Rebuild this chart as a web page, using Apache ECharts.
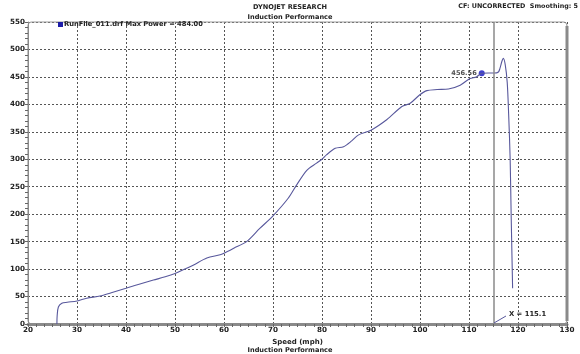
<!DOCTYPE html>
<html><head><meta charset="utf-8">
<script src="https://cdn.jsdelivr.net/npm/echarts@6/dist/echarts.min.js"></script>
<style>html,body{margin:0;padding:0;background:#fff}#c{width:580px;height:354px}</style>
</head><body><div id="c"></div><script>
// ---- data ----
const speedMph = [25.9, 25.95, 26.2, 26.9, 28, 30, 32, 34.7, 37, 40, 42.5, 45.6, 48, 50, 52, 53.7, 56.5, 59.2, 60, 62, 64.6, 67.3, 70, 73.1, 74.8, 76.9, 78.9, 80, 80.9, 82.7, 84.4, 86, 87.4, 90, 93.2, 96.3, 98, 99.9, 101.4, 103.5, 105.8, 108.2, 110.2, 111.5, 112.6, 114, 115.2, 116, 116.3, 116.7, 117, 117.4, 117.8, 118.1, 118.4, 118.6, 118.8, 118.9];
const powerHp  = [0, 15, 31, 37.7, 39.5, 42, 47, 51, 57, 65, 72, 80, 86, 92, 100, 107, 120, 126, 129, 138, 150, 174, 197, 229, 253, 280, 293, 300, 308, 320, 323, 333, 344, 353, 372, 396, 402, 417, 425, 427, 428, 435, 447, 450, 456.56, 457, 457, 459, 465, 478, 484, 472, 440, 380, 300, 200, 110, 65];
const markerPoint = [112.6, 456.56];
const cursorX = 115.1;
const seriesName = 'RunFile_011.drf Max Power = 484.00';
const xMin = 20, xMax = 130, xStep = 10;
const yMin = 0, yMax = 550, yStep = 50;

const FONT = 'DejaVu Sans';
const lbl = {fontFamily: FONT, fontWeight: 'bold', fontSize: 7.2, color: '#222'};
const small = {...lbl, fontSize: 6.6};

const chart = echarts.init(document.getElementById('c'), null, {renderer: 'canvas'});
const option = {
  animation: false,
  backgroundColor: '#fff',
  title: [
    {text: 'DYNOJET RESEARCH', subtext: 'Induction Performance', left: 'center', top: 4, itemGap: 2.5, padding: 0,
     textStyle: {...small}, subtextStyle: {...small}},
    {text: 'CF: UNCORRECTED  Smoothing: 5', right: 2, top: 3.5, padding: 0, textStyle: {...small, fontSize: 6.4}},
    {text: 'Induction Performance', left: 'center', bottom: 0, padding: 0, textStyle: {...small}}
  ],
  legend: {
    left: 58, top: 21, itemWidth: 5, itemHeight: 5, itemGap: 2, padding: 0,
    icon: 'rect', data: [{name: seriesName, icon: 'rect', itemStyle: {color: '#1c1ca8'}}],
    textStyle: {...small, fontSize: 6.7, padding: [0, 0, 0, -4]}
  },
  grid: {left: 28, right: 13, top: 22, bottom: 30, containLabel: false, outerBoundsMode: 'none'},
  xAxis: {
    type: 'value', min: xMin, max: xMax, interval: xStep,
    name: 'Speed (mph)', nameLocation: 'middle', nameGap: 10.5,
    nameTextStyle: {...lbl, fontSize: 7},
    axisLine: {show: true, lineStyle: {color: '#8a8a8a', width: 3}},
    axisTick: {show: true, length: 3, inside: false, lineStyle: {color: '#666'}},
    minorTick: {show: true, splitNumber: 6, length: 3, lineStyle: {color: '#666'}},
    axisLabel: {...lbl, margin: 2.5},
    splitLine: {show: true, lineStyle: {color: '#555', type: [2, 2], width: 1}}
  },
  yAxis: {
    type: 'value', min: yMin, max: yMax, interval: yStep,
    name: 'Power (hp)', nameLocation: 'middle', nameGap: 23, nameRotate: 90,
    nameTextStyle: {...lbl, fontSize: 7},
    axisLine: {show: true, lineStyle: {color: '#8a8a8a', width: 1}},
    axisTick: {show: true, length: 3, lineStyle: {color: '#666'}},
    minorTick: {show: true, splitNumber: 5, length: 3, lineStyle: {color: '#666'}},
    axisLabel: {...lbl, margin: 3},
    splitLine: {show: true, lineStyle: {color: '#555', type: [2, 2], width: 1}}
  },
  series: [
    {
      name: seriesName, type: 'line', showSymbol: false, symbol: 'none',
      smooth: 0.3,
      data: speedMph.map((s, i) => [s, powerHp[i]]),
      lineStyle: {color: '#58589c', width: 1.1},
      itemStyle: {color: '#1c1ca8'},
      markLine: {
        silent: true, symbol: 'none', label: {show: false},
        lineStyle: {color: '#8a8a8a', type: 'solid', width: 1.5},
        data: [{xAxis: cursorX}]
      }
    },
    {
      name: 'marker', type: 'scatter', data: [markerPoint],
      symbol: 'circle', symbolSize: 6, itemStyle: {color: '#1010c0'},
      label: {show: true, position: 'left', distance: 2, formatter: p => p.value[1].toFixed(2), ...small}
    }
  ]
};
chart.setOption(option);

// border box and cursor annotation, positioned via the axes
const tl = chart.convertToPixel({gridIndex: 0}, [xMin, yMax]);
const br = chart.convertToPixel({gridIndex: 0}, [xMax, yMin]);
const cb = chart.convertToPixel({gridIndex: 0}, [cursorX, yMin]);
chart.setOption({
  graphic: [
    {type: 'rect', z: 0, silent: true,
     shape: {x: tl[0], y: tl[1], width: br[0] - tl[0], height: br[1] - tl[1], r: 4},
     style: {fill: null, stroke: '#9a9a9a', lineWidth: 1.2}},
    {type: 'line', z: 5, silent: true,
     shape: {x1: br[0], y1: tl[1] + 4, x2: br[0], y2: br[1] - 3},
     style: {stroke: '#8a8a8a', lineWidth: 3}},
    {type: 'line', z: 5, silent: true,
     shape: {x1: cb[0], y1: cb[1] - 1, x2: cb[0] + 12, y2: cb[1] - 8},
     style: {stroke: '#58589c', lineWidth: 1}},
    {type: 'text', z: 5, silent: true, x: cb[0] + 15, y: cb[1] - 13,
     style: {text: 'X = 115.1', fill: '#222', font: 'bold 6.8px "DejaVu Sans"'}}
  ]
});
</script></body></html>
